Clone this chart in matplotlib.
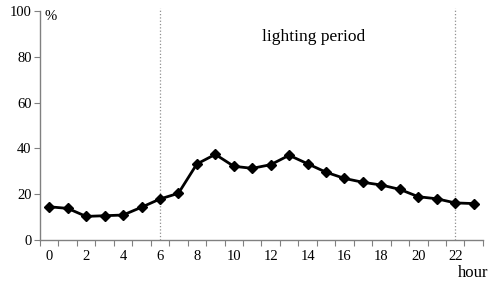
import matplotlib.pyplot as plt

# hourly share (%)
hours = list(range(24))
share = [14.5, 13.8, 10.3, 10.6, 10.9, 14.3, 17.9, 20.4, 33.2, 37.4, 32.2, 31.3,
         32.9, 37.0, 33.3, 29.6, 26.9, 25.2, 24.0, 22.1, 18.9, 18.0, 16.2, 15.9]
period_start = 6
period_end = 22
yticks = [0, 20, 40, 60, 80, 100]

plt.rcParams['font.family'] = ['Liberation Serif', 'DejaVu Serif']

fig = plt.figure(figsize=(4.91, 2.84), dpi=100)
ax = fig.add_axes([0.0815, 0.155, 0.902, 0.806])

ax.plot(hours, share, color='black', lw=2, marker='D', ms=5.5, zorder=3)

for h in (period_start, period_end):
    ax.plot([h, h], [0, 101.5], color='#909090', ls=':', lw=0.9, clip_on=False, zorder=2)

ax.set_xlim(-0.5, 23.5)
ax.set_ylim(0, 100)
ax.set_yticks(yticks)
ax.set_yticklabels([str(v) for v in yticks], fontsize=10.5)

# category boundaries as tick marks, labels on even hours
ax.set_xticks([h - 0.5 for h in hours] + [23.5])
ax.set_xticklabels([])
ax.set_xticks(hours, minor=True)
ax.set_xticklabels([str(h) if h % 2 == 0 else '' for h in hours], minor=True, fontsize=10.5)
ax.tick_params(axis='x', which='minor', length=0, pad=7)
ax.tick_params(axis='x', which='major', length=4, color='#808080', direction='out')
ax.tick_params(axis='y', length=4, color='#808080', direction='out', pad=2)

for s in ('top', 'right'):
    ax.spines[s].set_visible(False)
for s in ('left', 'bottom'):
    ax.spines[s].set_color('#808080')
    ax.spines[s].set_linewidth(1)

ax.text(0.01, 1.005, '%', transform=ax.transAxes, fontsize=10.5, va='top', ha='left')
ax.text(1.012, -0.108, 'hour', transform=ax.transAxes, fontsize=12, va='top', ha='right')
ax.text(14.3, 88.5, 'lighting period', fontsize=12.5, ha='center', va='center')

fig.savefig('out.png', dpi=100)
